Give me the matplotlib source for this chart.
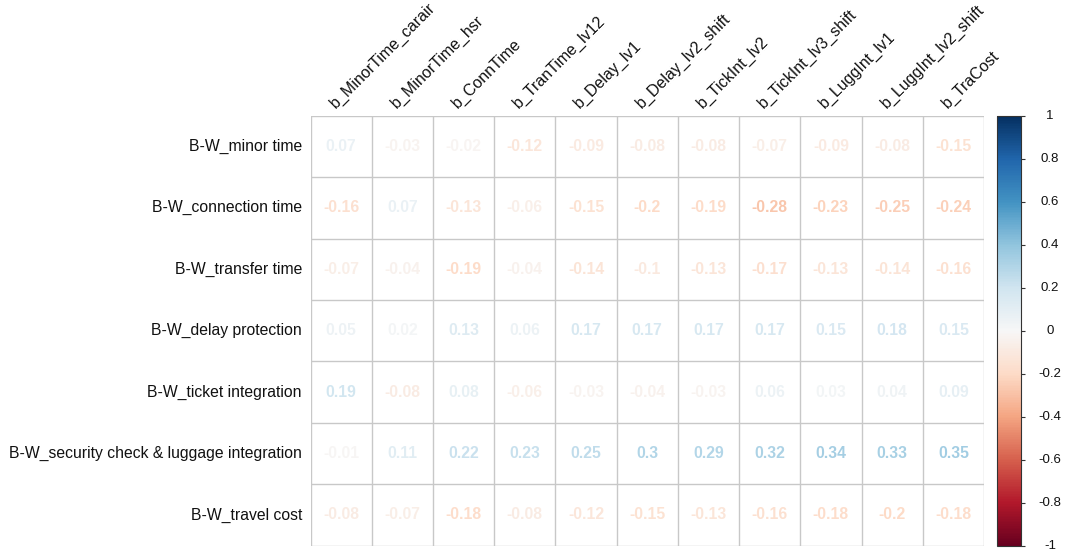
import numpy as np
import matplotlib
matplotlib.use("Agg")
import matplotlib.pyplot as plt
from matplotlib import cm, colors

plt.rcParams['font.family'] = ['Liberation Sans', 'DejaVu Sans']

col_labels = ["b_MinorTime_carair", "b_MinorTime_hsr", "b_ConnTime", "b_TranTime_lv12",
              "b_Delay_lv1", "b_Delay_lv2_shift", "b_TickInt_lv2", "b_TickInt_lv3_shift",
              "b_LuggInt_lv1", "b_LuggInt_lv2_shift", "b_TraCost"]
row_labels = ["B-W_minor time", "B-W_connection time", "B-W_transfer time",
              "B-W_delay protection", "B-W_ticket integration",
              "B-W_security check & luggage integration", "B-W_travel cost"]

row_minor_time = [0.07, -0.03, -0.02, -0.12, -0.09, -0.08, -0.08, -0.07, -0.09, -0.08, -0.15]
row_connection_time = [-0.16, 0.07, -0.13, -0.06, -0.15, -0.2, -0.19, -0.28, -0.23, -0.25, -0.24]
row_transfer_time = [-0.07, -0.04, -0.19, -0.04, -0.14, -0.1, -0.13, -0.17, -0.13, -0.14, -0.16]
row_delay_protection = [0.05, 0.02, 0.13, 0.06, 0.17, 0.17, 0.17, 0.17, 0.15, 0.18, 0.15]
row_ticket_integration = [0.19, -0.08, 0.08, -0.06, -0.03, -0.04, -0.03, 0.06, 0.03, 0.04, 0.09]
row_security_luggage = [-0.01, 0.11, 0.22, 0.23, 0.25, 0.3, 0.29, 0.32, 0.34, 0.33, 0.35]
row_travel_cost = [-0.08, -0.07, -0.18, -0.08, -0.12, -0.15, -0.13, -0.16, -0.18, -0.2, -0.18]

cbar_ticks = [-1, -0.8, -0.6, -0.4, -0.2, 0, 0.2, 0.4, 0.6, 0.8, 1]
cbar_ticklabels = ["-1", "-0.8", "-0.6", "-0.4", "-0.2", "0", "0.2", "0.4", "0.6", "0.8", "1"]

M = np.array([row_minor_time, row_connection_time, row_transfer_time, row_delay_protection,
              row_ticket_integration, row_security_luggage, row_travel_cost])

W, H = 1066, 554
fig = plt.figure(figsize=(W / 100, H / 100), dpi=100)

gx0, gx1, gy0, gy1 = 310.5, 984.0, 115.7, 545.7
ax = fig.add_axes([gx0 / W, 1 - gy1 / H, (gx1 - gx0) / W, (gy1 - gy0) / H])
nr, nc = M.shape
ax.set_xlim(0, nc)
ax.set_ylim(nr, 0)
cmap = plt.get_cmap('RdBu')
norm = colors.Normalize(-1, 1)

for i in range(nr):
    for j in range(nc):
        v = M[i, j]
        ax.text(j + 0.5, i + 0.5, f"{v:g}", ha='center', va='center',
                fontsize=11.3, fontweight='bold', color=cmap(norm(v)))

gridc = '#c8c8c8'
for j in range(nc + 1):
    ax.axvline(j, color=gridc, lw=1.0)
for i in range(nr + 1):
    ax.axhline(i, color=gridc, lw=1.0)
for s in ax.spines.values():
    s.set_visible(False)
ax.set_xticks([])
ax.set_yticks([])

for i, lab in enumerate(row_labels):
    ax.text(-0.14, i + 0.5, lab, ha='right', va='center', fontsize=11.3, color='#111111')

for j, lab in enumerate(col_labels):
    ax.text(j + 0.44, -0.08, lab, ha='left', va='bottom', rotation=45,
            rotation_mode='anchor', fontsize=11.5, color='#111111')

cax = fig.add_axes([997 / W, 1 - 546 / H, 24 / W, 430 / H])
cb = fig.colorbar(cm.ScalarMappable(norm=norm, cmap=cmap), cax=cax)
cb.outline.set_edgecolor('#333333')
cb.outline.set_linewidth(0.8)
cb.set_ticks(cbar_ticks)
cax.set_yticklabels([])
cax.tick_params(axis='y', length=3, width=0.8, color='#333333')
for t, lab in zip(cbar_ticks, cbar_ticklabels):
    cax.text((1050 - 997) / 24, t, lab, ha='center', va='center', fontsize=9.5,
             color='#111111', transform=cax.get_yaxis_transform(), clip_on=False)

fig.savefig("out.png", dpi=100, facecolor='white')
